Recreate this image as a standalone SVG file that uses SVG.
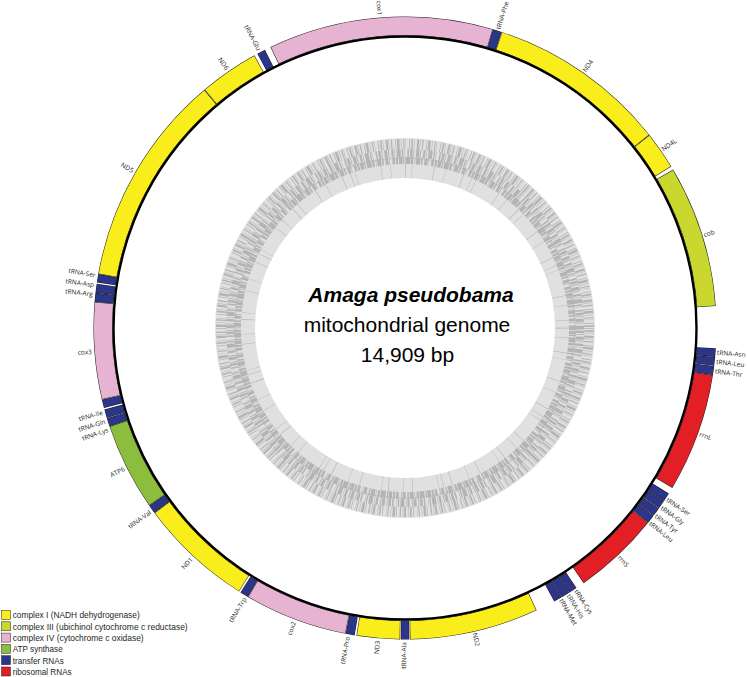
<svg xmlns="http://www.w3.org/2000/svg" width="747" height="677" viewBox="0 0 747 677">
<style>
.gene circle{fill:none}
.o{stroke:#231f20;stroke-width:19}
.f{stroke-width:18}
.c1{stroke:#f9ed1b}.c3{stroke:#c9d72e}.c4{stroke:#e6b3d3}.c5{stroke:#8cbd3f}.ct{stroke:#2b3589}.cr{stroke:#e31f26}
.lb{font-family:"Open Sans","Liberation Sans",sans-serif;font-size:6.5px;fill:#231f20}
.le{text-anchor:end}
.lg{font-family:"Liberation Sans",Arial,sans-serif;font-size:9.5px;fill:#231f20}
.ctr{font-family:"Liberation Sans",Arial,sans-serif;font-size:21px;fill:#000;text-anchor:middle}
.gc{fill:none;stroke:#b4b4b4}
</style>
<rect width="747" height="677" fill="#fff"/>
<g id="gc-ring" transform="translate(405,328)">
<circle r="170" fill="none" stroke="#e0e0e0" stroke-width="40"/>
<circle class="gc" r="157" stroke-width="14" stroke="#bdbdbd" stroke-dasharray="0.5 9 0.4 14 0.6 6 0.4 21 0.5 11 0.4 17 0.6 8 0.5 4 0.4 25"/>
<circle class="gc" r="167.5" stroke-width="7" stroke-dasharray="2 0.9 3.5 0.6 1.2 1.2 5 0.7 2.2 1.4 0.7 0.8 4 0.9 1.5 1.8 3 0.7 0.8 2.5 2.6 1"/>
<circle class="gc" r="175" stroke-width="8" stroke-dasharray="1.5 1.2 2.5 0.9 0.8 1.8 3 0.8 1 2.2 2.2 1 0.6 1.5 4 1.2 1.3 0.8 0.5 3"/>
<circle class="gc" r="184" stroke-width="10" stroke-dasharray="0.8 1.5 1.6 1 0.5 2.5 2 0.8 0.6 1.8 1.2 3 0.7 1 2.5 1.4 0.5 2 1.1 0.9 0.4 3.3"/>
<circle class="gc" r="170" stroke-width="0.6"/>
</g>
<g id="center-text">
<text class="ctr" x="411" y="302" font-weight="bold" font-style="italic">Amaga pseudobama</text>
<text class="ctr" x="407" y="332">mitochondrial genome</text>
<text class="ctr" x="407.5" y="362">14,909 bp</text>
</g>
<g transform="translate(405,328)">
<g id="cox1" class="gene" transform="rotate(244.4)"><circle class="o" r="302" pathLength="360" stroke-dasharray="42 400"/><circle class="f c4" r="302" pathLength="360" stroke-dasharray="41.8 400" stroke-dashoffset="-0.1"/></g>
<g id="tRNA-Phe" class="gene" transform="rotate(-73.6)"><circle class="o" r="302" pathLength="360" stroke-dasharray="1.7 400"/><circle class="f ct" r="302" pathLength="360" stroke-dasharray="1.5 400" stroke-dashoffset="-0.1"/></g>
<g id="ND4" class="gene" transform="rotate(-71.9)"><circle class="o" r="302" pathLength="360" stroke-dasharray="33.6 400"/><circle class="f c1" r="302" pathLength="360" stroke-dasharray="33.4 400" stroke-dashoffset="-0.1"/></g>
<g id="ND4L" class="gene" transform="rotate(-38.3)"><circle class="o" r="302" pathLength="360" stroke-dasharray="7.1 400"/><circle class="f c1" r="302" pathLength="360" stroke-dasharray="6.9 400" stroke-dashoffset="-0.1"/></g>
<g id="cob" class="gene" transform="rotate(-30.6)"><circle class="o" r="302" pathLength="360" stroke-dasharray="26.55 400"/><circle class="f c3" r="302" pathLength="360" stroke-dasharray="26.35 400" stroke-dashoffset="-0.1"/></g>
<g id="tRNA-Asn" class="gene" transform="rotate(3.75)"><circle class="o" r="302" pathLength="360" stroke-dasharray="1.6 400"/><circle class="f ct" r="302" pathLength="360" stroke-dasharray="1.4 400" stroke-dashoffset="-0.1"/></g>
<g id="tRNA-Leu1" class="gene" transform="rotate(5.35)"><circle class="o" r="302" pathLength="360" stroke-dasharray="1.65 400"/><circle class="f ct" r="302" pathLength="360" stroke-dasharray="1.45 400" stroke-dashoffset="-0.1"/></g>
<g id="tRNA-Thr" class="gene" transform="rotate(7.0)"><circle class="o" r="302" pathLength="360" stroke-dasharray="1.7 400"/><circle class="f ct" r="302" pathLength="360" stroke-dasharray="1.5 400" stroke-dashoffset="-0.1"/></g>
<g id="rrnL" class="gene" transform="rotate(8.7)"><circle class="o" r="302" pathLength="360" stroke-dasharray="22.2 400"/><circle class="f cr" r="302" pathLength="360" stroke-dasharray="22 400" stroke-dashoffset="-0.1"/></g>
<g id="tRNA-Ser2" class="gene" transform="rotate(32.1)"><circle class="o" r="302" pathLength="360" stroke-dasharray="1.65 400"/><circle class="f ct" r="302" pathLength="360" stroke-dasharray="1.45 400" stroke-dashoffset="-0.1"/></g>
<g id="tRNA-Gly" class="gene" transform="rotate(33.75)"><circle class="o" r="302" pathLength="360" stroke-dasharray="1.65 400"/><circle class="f ct" r="302" pathLength="360" stroke-dasharray="1.45 400" stroke-dashoffset="-0.1"/></g>
<g id="tRNA-Tyr" class="gene" transform="rotate(35.4)"><circle class="o" r="302" pathLength="360" stroke-dasharray="1.65 400"/><circle class="f ct" r="302" pathLength="360" stroke-dasharray="1.45 400" stroke-dashoffset="-0.1"/></g>
<g id="tRNA-Leu2" class="gene" transform="rotate(37.05)"><circle class="o" r="302" pathLength="360" stroke-dasharray="1.65 400"/><circle class="f ct" r="302" pathLength="360" stroke-dasharray="1.45 400" stroke-dashoffset="-0.1"/></g>
<g id="rrnS" class="gene" transform="rotate(38.7)"><circle class="o" r="302" pathLength="360" stroke-dasharray="16.3 400"/><circle class="f cr" r="302" pathLength="360" stroke-dasharray="16.1 400" stroke-dashoffset="-0.1"/></g>
<g id="tRNA-Cys" class="gene" transform="rotate(56.6)"><circle class="o" r="302" pathLength="360" stroke-dasharray="1.6 400"/><circle class="f ct" r="302" pathLength="360" stroke-dasharray="1.4 400" stroke-dashoffset="-0.1"/></g>
<g id="tRNA-His" class="gene" transform="rotate(58.2)"><circle class="o" r="302" pathLength="360" stroke-dasharray="1.6 400"/><circle class="f ct" r="302" pathLength="360" stroke-dasharray="1.4 400" stroke-dashoffset="-0.1"/></g>
<g id="tRNA-Met" class="gene" transform="rotate(59.8)"><circle class="o" r="302" pathLength="360" stroke-dasharray="1.6 400"/><circle class="f ct" r="302" pathLength="360" stroke-dasharray="1.4 400" stroke-dashoffset="-0.1"/></g>
<g id="ND2" class="gene" transform="rotate(65.0)"><circle class="o" r="302" pathLength="360" stroke-dasharray="24.1 400"/><circle class="f c1" r="302" pathLength="360" stroke-dasharray="23.9 400" stroke-dashoffset="-0.1"/></g>
<g id="tRNA-Ala" class="gene" transform="rotate(89.2)"><circle class="o" r="302" pathLength="360" stroke-dasharray="1.6 400"/><circle class="f ct" r="302" pathLength="360" stroke-dasharray="1.4 400" stroke-dashoffset="-0.1"/></g>
<g id="ND3" class="gene" transform="rotate(90.9)"><circle class="o" r="302" pathLength="360" stroke-dasharray="8.1 400"/><circle class="f c1" r="302" pathLength="360" stroke-dasharray="7.9 400" stroke-dashoffset="-0.1"/></g>
<g id="tRNA-Pro" class="gene" transform="rotate(99.3)"><circle class="o" r="302" pathLength="360" stroke-dasharray="1.7 400"/><circle class="f ct" r="302" pathLength="360" stroke-dasharray="1.5 400" stroke-dashoffset="-0.1"/></g>
<g id="cox2" class="gene" transform="rotate(101.0)"><circle class="o" r="302" pathLength="360" stroke-dasharray="19.3 400"/><circle class="f c4" r="302" pathLength="360" stroke-dasharray="19.1 400" stroke-dashoffset="-0.1"/></g>
<g id="tRNA-Trp" class="gene" transform="rotate(120.3)"><circle class="o" r="302" pathLength="360" stroke-dasharray="1.6 400"/><circle class="f ct" r="302" pathLength="360" stroke-dasharray="1.4 400" stroke-dashoffset="-0.1"/></g>
<g id="ND1" class="gene" transform="rotate(122.2)"><circle class="o" r="302" pathLength="360" stroke-dasharray="21.4 400"/><circle class="f c1" r="302" pathLength="360" stroke-dasharray="21.2 400" stroke-dashoffset="-0.1"/></g>
<g id="tRNA-Val" class="gene" transform="rotate(143.6)"><circle class="o" r="302" pathLength="360" stroke-dasharray="1.6 400"/><circle class="f ct" r="302" pathLength="360" stroke-dasharray="1.4 400" stroke-dashoffset="-0.1"/></g>
<g id="ATP6" class="gene" transform="rotate(145.2)"><circle class="o" r="302" pathLength="360" stroke-dasharray="16.4 400"/><circle class="f c5" r="302" pathLength="360" stroke-dasharray="16.2 400" stroke-dashoffset="-0.1"/></g>
<g id="tRNA-Lys" class="gene" transform="rotate(161.6)"><circle class="o" r="302" pathLength="360" stroke-dasharray="1.6 400"/><circle class="f ct" r="302" pathLength="360" stroke-dasharray="1.4 400" stroke-dashoffset="-0.1"/></g>
<g id="tRNA-Gln" class="gene" transform="rotate(163.2)"><circle class="o" r="302" pathLength="360" stroke-dasharray="1.65 400"/><circle class="f ct" r="302" pathLength="360" stroke-dasharray="1.45 400" stroke-dashoffset="-0.1"/></g>
<g id="tRNA-Ile" class="gene" transform="rotate(165.1)"><circle class="o" r="302" pathLength="360" stroke-dasharray="1.6 400"/><circle class="f ct" r="302" pathLength="360" stroke-dasharray="1.4 400" stroke-dashoffset="-0.1"/></g>
<g id="cox3" class="gene" transform="rotate(166.7)"><circle class="o" r="302" pathLength="360" stroke-dasharray="18.1 400"/><circle class="f c4" r="302" pathLength="360" stroke-dasharray="17.9 400" stroke-dashoffset="-0.1"/></g>
<g id="tRNA-Arg" class="gene" transform="rotate(184.8)"><circle class="o" r="302" pathLength="360" stroke-dasharray="1.7 400"/><circle class="f ct" r="302" pathLength="360" stroke-dasharray="1.5 400" stroke-dashoffset="-0.1"/></g>
<g id="tRNA-Asp" class="gene" transform="rotate(186.5)"><circle class="o" r="302" pathLength="360" stroke-dasharray="1.7 400"/><circle class="f ct" r="302" pathLength="360" stroke-dasharray="1.5 400" stroke-dashoffset="-0.1"/></g>
<g id="tRNA-Ser1" class="gene" transform="rotate(188.4)"><circle class="o" r="302" pathLength="360" stroke-dasharray="1.6 400"/><circle class="f ct" r="302" pathLength="360" stroke-dasharray="1.4 400" stroke-dashoffset="-0.1"/></g>
<g id="ND5" class="gene" transform="rotate(190.0)"><circle class="o" r="302" pathLength="360" stroke-dasharray="39.9 400"/><circle class="f c1" r="302" pathLength="360" stroke-dasharray="39.7 400" stroke-dashoffset="-0.1"/></g>
<g id="ND6" class="gene" transform="rotate(229.9)"><circle class="o" r="302" pathLength="360" stroke-dasharray="11.2 400"/><circle class="f c1" r="302" pathLength="360" stroke-dasharray="11 400" stroke-dashoffset="-0.1"/></g>
<g id="tRNA-Glu" class="gene" transform="rotate(241.7)"><circle class="o" r="302" pathLength="360" stroke-dasharray="1.6 400"/><circle class="f ct" r="302" pathLength="360" stroke-dasharray="1.4 400" stroke-dashoffset="-0.1"/></g>
<circle id="genome-circle" r="291.5" fill="none" stroke="#000" stroke-width="2.4"/>
<g id="labels-right" class="lb">
<text transform="rotate(-72.7)" x="313" y="2.3">tRNA-Phe</text>
<text transform="rotate(-55.1)" x="313" y="2.3">ND4</text>
<text transform="rotate(-34.75)" x="313" y="2.3">ND4L</text>
<text transform="rotate(-17.3)" x="313" y="2.3">cob</text>
<text transform="rotate(4.5)" x="313" y="2.3">tRNA-Asn</text>
<text transform="rotate(6.2)" x="313" y="2.3">tRNA-Leu</text>
<text transform="rotate(7.9)" x="313" y="2.3">tRNA-Thr</text>
<text transform="rotate(19.8)" x="313" y="2.3">rrnL</text>
<text transform="rotate(33.2)" x="313" y="2.3">tRNA-Ser</text>
<text transform="rotate(35.0)" x="313" y="2.3">tRNA-Gly</text>
<text transform="rotate(36.8)" x="313" y="2.3">tRNA-Tyr</text>
<text transform="rotate(38.5)" x="313" y="2.3">tRNA-Leu</text>
<text transform="rotate(46.9)" x="313" y="2.3">rrnS</text>
<text transform="rotate(56.9)" x="313" y="2.3">tRNA-Cys</text>
<text transform="rotate(58.5)" x="313" y="2.3">tRNA-His</text>
<text transform="rotate(60.1)" x="313" y="2.3">tRNA-Met</text>
<text transform="rotate(77.1)" x="313" y="2.3">ND2</text>
</g>
<g id="labels-left" class="lb le">
<text transform="rotate(270.2)" x="-314" y="2.3">tRNA-Ala</text>
<text transform="rotate(275.0)" x="-314" y="2.3">ND3</text>
<text transform="rotate(280.5)" x="-314" y="2.3">tRNA-Pro</text>
<text transform="rotate(290.7)" x="-314" y="2.3">cox2</text>
<text transform="rotate(300.7)" x="-314" y="2.3">tRNA-Trp</text>
<text transform="rotate(312.8)" x="-314" y="2.3">ND1</text>
<text transform="rotate(324.2)" x="-314" y="2.3">tRNA-Val</text>
<text transform="rotate(333.4)" x="-314" y="2.3">ATP6</text>
<text transform="rotate(341.1)" x="-314" y="2.3">tRNA-Lys</text>
<text transform="rotate(342.7)" x="-314" y="2.3">tRNA-Gln</text>
<text transform="rotate(344.4)" x="-314" y="2.3">tRNA-Ile</text>
<text transform="rotate(355.7)" x="-314" y="2.3">cox3</text>
<text transform="rotate(366.2)" x="-314" y="2.3">tRNA-Arg</text>
<text transform="rotate(367.9)" x="-314" y="2.3">tRNA-Asp</text>
<text transform="rotate(369.7)" x="-314" y="2.3">tRNA-Ser</text>
<text transform="rotate(390)" x="-314" y="2.3">ND5</text>
<text transform="rotate(415.5)" x="-314" y="2.3">ND6</text>
<text transform="rotate(422.3)" x="-314" y="2.3">tRNA-Glu</text>
<text transform="rotate(445.4)" x="-314" y="2.3">cox1</text>
</g>
</g>
<g id="legend">
<g stroke="#231f20" stroke-width="0.5">
<rect x="1.5" y="610.5" width="9" height="9" fill="#f9ed1b"/>
<rect x="1.5" y="621.8" width="9" height="9" fill="#c9d72e"/>
<rect x="1.5" y="633.1" width="9" height="9" fill="#e6b3d3"/>
<rect x="1.5" y="644.4" width="9" height="9" fill="#8cbd3f"/>
<rect x="1.5" y="655.7" width="9" height="9" fill="#2b3589"/>
<rect x="1.5" y="667" width="9" height="9" fill="#e31f26"/>
</g>
<g class="lg">
<text x="12.7" y="618.4" textLength="127" lengthAdjust="spacingAndGlyphs">complex I (NADH dehydrogenase)</text>
<text x="12.7" y="629.7" textLength="175" lengthAdjust="spacingAndGlyphs">complex III (ubichinol cytochrome c reductase)</text>
<text x="12.7" y="641" textLength="131" lengthAdjust="spacingAndGlyphs">complex IV (cytochrome c oxidase)</text>
<text x="12.7" y="652.3" textLength="50" lengthAdjust="spacingAndGlyphs">ATP synthase</text>
<text x="12.7" y="663.6" textLength="51" lengthAdjust="spacingAndGlyphs">transfer RNAs</text>
<text x="12.7" y="674.9" textLength="59" lengthAdjust="spacingAndGlyphs">ribosomal RNAs</text>
</g>
</g>
</svg>
